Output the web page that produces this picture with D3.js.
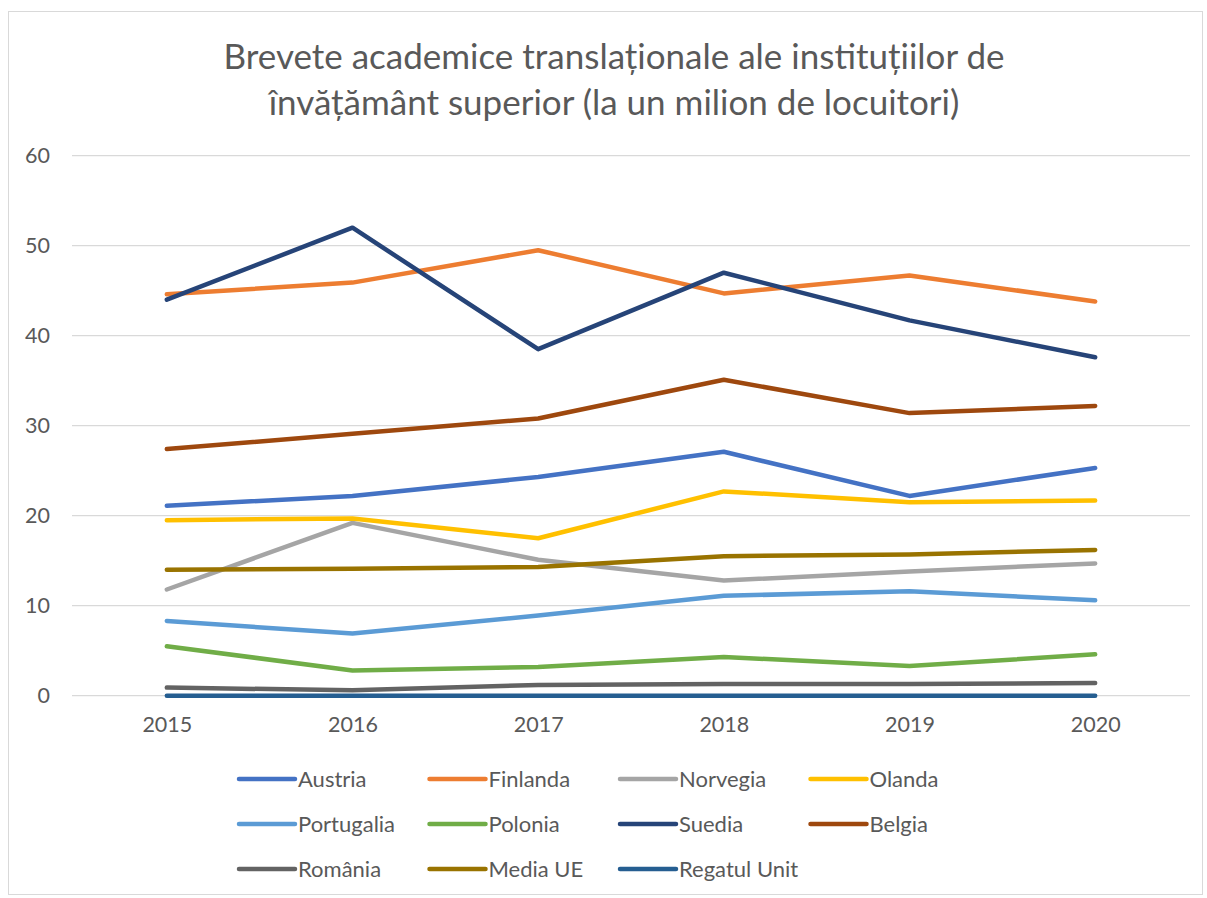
<!DOCTYPE html>
<html>
<head>
<meta charset="utf-8">
<script src="https://cdn.jsdelivr.net/npm/d3@7"></script>
<style>
  html, body { margin: 0; padding: 0; background: #fff; }
  svg { display: block; }
  text { font-family: Lato, "Open Sans", sans-serif; fill: #595959; }
</style>
</head>
<body>
<script>
const years = ["2015", "2016", "2017", "2018", "2019", "2020"];
const yTicks = [0, 10, 20, 30, 40, 50, 60];
const titleLines = [
  "Brevete academice translaționale ale instituțiilor de",
  "învățământ superior (la un milion de locuitori)"
];
const seriesNames = ["Austria", "Finlanda", "Norvegia", "Olanda", "Portugalia", "Polonia", "Suedia", "Belgia", "România", "Media UE", "Regatul Unit"];
const austria    = [21.1, 22.2, 24.3, 27.1, 22.2, 25.3];
const finlanda   = [44.6, 45.9, 49.5, 44.7, 46.7, 43.8];
const norvegia   = [11.8, 19.2, 15.1, 12.8, 13.8, 14.7];
const olanda     = [19.5, 19.7, 17.5, 22.7, 21.5, 21.7];
const portugalia = [8.3, 6.9, 8.9, 11.1, 11.6, 10.6];
const polonia    = [5.5, 2.8, 3.2, 4.3, 3.3, 4.6];
const suedia     = [44.0, 52.0, 38.5, 47.0, 41.7, 37.6];
const belgia     = [27.4, 29.1, 30.8, 35.1, 31.4, 32.2];
const romania    = [0.9, 0.6, 1.2, 1.3, 1.3, 1.4];
const mediaUE    = [14.0, 14.1, 14.3, 15.5, 15.7, 16.2];
const regatulUnit = [0, 0, 0, 0, 0, 0];
const seriesValues = [austria, finlanda, norvegia, olanda, portugalia, polonia, suedia, belgia, romania, mediaUE, regatulUnit];
const colors = ["#4472C4", "#ED7D31", "#A5A5A5", "#FFC000", "#5B9BD5", "#70AD47", "#264478", "#9E480E", "#636363", "#997300", "#255E91"];

const W = 1207, H = 898;
const svg = d3.select("body").append("svg").attr("width", W).attr("height", H);

// chart border
svg.append("rect").attr("x", 8.5).attr("y", 11.5).attr("width", 1194).attr("height", 883)
  .attr("fill", "#fff").attr("stroke", "#D9D9D9").attr("stroke-width", 1);

// title
svg.append("g").selectAll("text").data(titleLines).join("text")
  .attr("x", 614).attr("y", (d, i) => 69 + i * 46)
  .attr("text-anchor", "middle").attr("font-size", 35)
  .text(d => d);

const x = d3.scalePoint().domain(years).range([74, 1188]).padding(0.5);
const y = d3.scaleLinear().domain([0, 60]).range([695.7, 155.7]);

// gridlines
svg.append("g").selectAll("line").data(yTicks).join("line")
  .attr("x1", 72).attr("x2", 1190)
  .attr("y1", d => y(d)).attr("y2", d => y(d))
  .attr("stroke", "#D9D9D9").attr("stroke-width", 1.3);

// y axis labels
const yAxis = d3.axisLeft(y).tickValues(yTicks).tickSize(0).tickPadding(0);
const gy = svg.append("g").attr("transform", "translate(50,0)").call(yAxis);
gy.select(".domain").remove();
gy.selectAll("text").attr("font-size", 21.5).attr("fill", "#595959")
  .style("font-family", "Lato, sans-serif");

// x axis labels
const xAxis = d3.axisBottom(x).tickSize(0).tickPadding(0);
const gx = svg.append("g").attr("transform", "translate(0,717)").call(xAxis);
gx.select(".domain").remove();
gx.selectAll("text").attr("font-size", 21.5).attr("fill", "#595959")
  .style("font-family", "Lato, sans-serif");

// lines
const line = d3.line().x((d, i) => x(years[i])).y(d => y(d));
svg.append("g").selectAll("path").data(seriesValues).join("path")
  .attr("d", d => line(d))
  .attr("fill", "none")
  .attr("stroke", (d, i) => colors[i])
  .attr("stroke-width", 4.5)
  .attr("stroke-linecap", "round")
  .attr("stroke-linejoin", "round");

// legend
const legend = svg.append("g");
const items = legend.selectAll("g").data(seriesNames).join("g")
  .attr("transform", (d, i) => `translate(${239 + (i % 4) * 190.5},${779 + Math.floor(i / 4) * 45})`);
items.append("line").attr("x1", 0).attr("x2", 56).attr("y1", 0).attr("y2", 0)
  .attr("stroke", (d, i) => colors[i]).attr("stroke-width", 4.5).attr("stroke-linecap", "round");
items.append("text").attr("x", 59).attr("y", 0).attr("dy", "0.35em")
  .attr("font-size", 22).text(d => d);
</script>
</body>
</html>
